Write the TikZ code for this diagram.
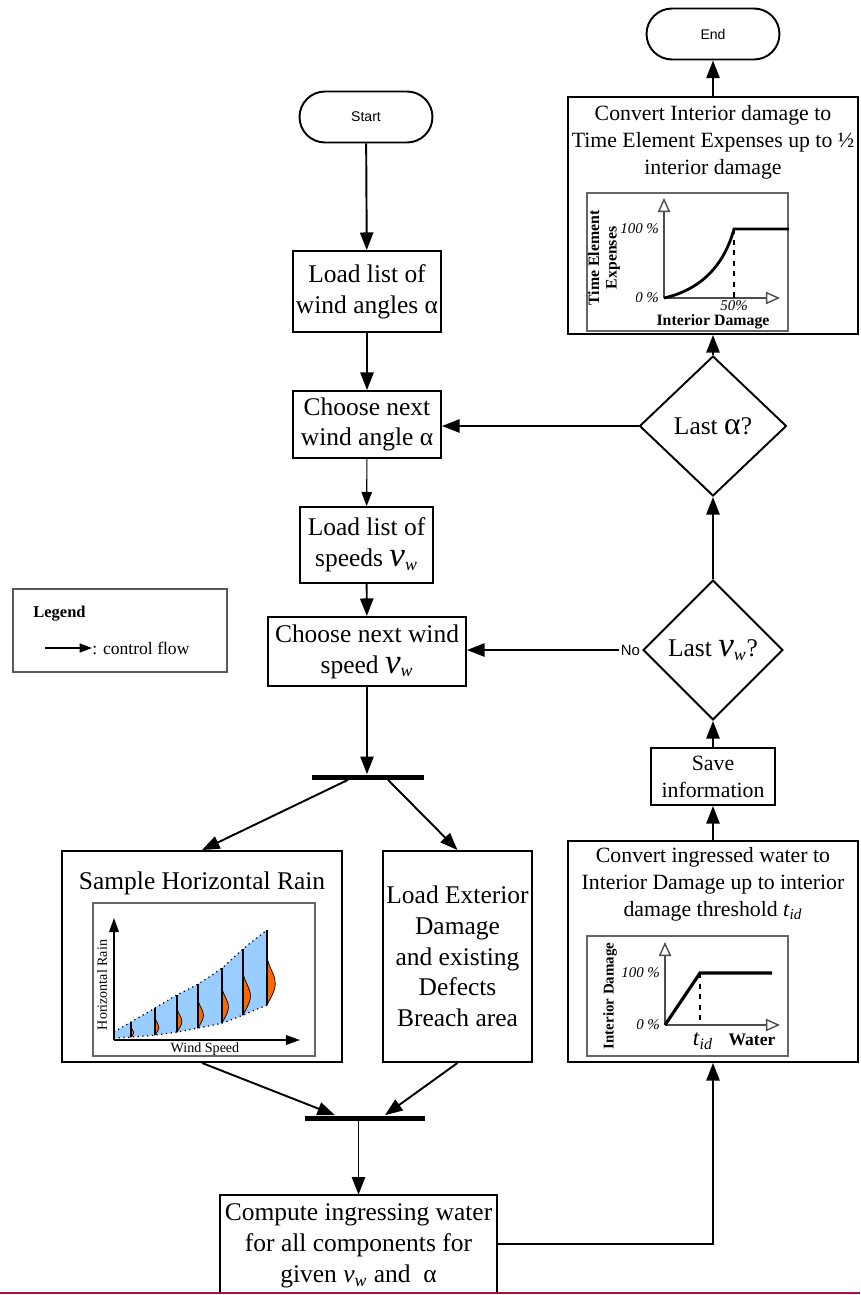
\documentclass[tikz,border=0pt]{standalone}
\usepackage{fontspec}
\setmainfont{Liberation Serif}
\setsansfont{Liberation Sans}
\usetikzlibrary{arrows.meta,shapes.geometric}
\definecolor{rainblue}{RGB}{153,204,255}
\definecolor{rainorange}{RGB}{255,102,0}
\definecolor{rulered}{RGB}{165,20,50}
\newcommand{\vw}[1][14.5]{{\fontsize{#1}{#1}\selectfont\itshape v}\textsubscript{\itshape w}}
\newcommand{\tid}{\textit{t}\textsubscript{\textit{id}}}
\begin{document}
\begin{tikzpicture}[x=0.02cm,y=-0.02cm,
  procbox/.style={draw,line width=1.1pt,align=center,inner sep=1pt},
  lbox/.style={procbox,font=\fontsize{14.5}{17.5}\selectfont},
  rbox/.style={procbox,font=\fontsize{12.4}{15.3}\selectfont},
  term/.style={draw,line width=1.1pt,rounded corners=0.51cm,minimum width=2.66cm,minimum height=1.02cm,font=\sffamily\fontsize{8}{10}\selectfont},
  decision/.style={draw,diamond,aspect=1.1,line width=1.1pt,inner sep=0pt,font=\fontsize{14.5}{17}\selectfont},
  flow/.style={line width=1.1pt,-{Triangle[length=10pt,width=7.5pt]}},
  thinflow/.style={line width=0.6pt,-{Triangle[length=8pt,width=6pt]}},
  legflow/.style={line width=1.1pt,-{Triangle[length=7pt,width=5pt]}},
  forkbar/.style={fill,inner sep=0pt,minimum height=0.1cm},
  chartframe/.style={draw=gray!80!black,line width=0.6pt},
  openaxis/.style={draw=gray!60!black,line width=0.8pt,-{Triangle[open,fill=white,length=8pt,width=7pt]}},
  rainaxis/.style={line width=0.8pt,-{Triangle[length=8pt,width=5.5pt]}},
  pct/.style={font=\itshape\fontsize{8.5}{9}\selectfont,inner sep=1pt},
]
\useasboundingbox (0,0) rectangle (860,1295);

% left column
\node[term] (start) at (366,117) {Start};
\node[lbox,minimum width=2.96cm,minimum height=1.62cm] (loadang) at (367,291.5) {Load list of\\wind angles α};
\node[lbox,minimum width=2.96cm,minimum height=1.34cm] (chooseang) at (367,424.5) {Choose next\\wind angle α};
\node[lbox,minimum width=2.66cm,minimum height=1.52cm] (loadspd) at (366.5,545) {Load list of\\speeds \vw[20]};
\node[lbox,minimum width=3.96cm,minimum height=1.38cm] (choosespd) at (367,651.5) {Choose next wind\\speed \vw[20]};
\node[forkbar,minimum width=2.26cm] (fork) at (368,777) {};
\node[procbox,minimum width=5.6cm,minimum height=4.22cm] (sample) at (202,956.5) {};
\node[anchor=north,inner sep=1pt,font=\fontsize{14.5}{17.5}\selectfont] (sampletxt) at (202,870) {Sample Horizontal Rain};
\node[lbox,minimum width=2.98cm,minimum height=4.22cm] (exterior) at (457.5,956.5) {Load Exterior\\Damage\\and existing\\Defects\\Breach area};
\node[forkbar,minimum width=2.4cm] (join) at (365,1118) {};
\node[minimum width=5.54cm,minimum height=1.96cm,inner sep=0pt] (compute) at (358.5,1244) {};
\node[align=center,inner sep=1pt,font=\fontsize{14.5}{17.5}\selectfont] (computetxt) at (358.5,1246) {Compute ingressing water\\for all components for\\given \vw\ and~ α};
\draw[line width=1.1pt] (compute.south west) -- (compute.north west) -- (compute.north east) -- (compute.south east);
\draw[line width=1.1pt,rulered] (0,1293) -- (860,1293);

% legend
\node[draw=gray!70!black,line width=0.6pt,minimum width=4.28cm,minimum height=1.66cm] (legend) at (120,630.5) {};
\node[anchor=west,inner sep=0pt,font=\bfseries\fontsize{9.4}{10}\selectfont] (legtitle) at (33,614) {Legend};
\coordinate (legarrow) at (45,648);
\node[anchor=west,inner sep=0pt,font=\fontsize{10}{11}\selectfont] (legtxt) at (92,648) {: control flow};
\draw[legflow] (legarrow) -- (legtxt.west);

% right column
\node[term] (end) at (713,34) {End};
\node[procbox,minimum width=5.8cm,minimum height=4.74cm] (convexp) at (713,215.5) {};
\node[rbox,draw=none,anchor=north] (convexptxt) at (713,103) {Convert Interior damage to\\Time Element Expenses up to ½\\interior damage};
\node[decision,minimum width=2.94cm,minimum height=2.8cm] (lastang) at (713,426) {Last {\fontsize{18}{18}\selectfont α}?};
\node[decision,minimum width=2.8cm,minimum height=2.8cm] (lastvw) at (713,650) {Last \vw[20]?};
\node[anchor=east,inner sep=1pt,font=\sffamily\fontsize{8.5}{10}\selectfont] (no) at (lastvw.west) {No};
\node[rbox,minimum width=2.48cm,minimum height=1.14cm] (save) at (713,776.5) {Save\\information};
\node[procbox,minimum width=5.8cm,minimum height=4.42cm] (convwater) at (713,951.5) {};
\node[rbox,draw=none,anchor=north] (convwatertxt) at (713,845) {Convert ingressed water to\\Interior Damage up to interior\\damage threshold \tid};

% chart: time element expenses
\draw[chartframe] (587,193) rectangle (788,331);
\draw[openaxis] (664,298) -- (664,198);
\draw[openaxis] (664,298) -- (780,298);
\draw[dashed,line width=0.7pt] (734,229) -- (734,298);
\draw[line width=1.6pt] (664,298) .. controls (700,290) and (724,266) .. (734,229) -- (789,229);
\node[pct,anchor=east] at (661,229) {100 \%};
\node[pct,anchor=east] at (661,298) {0 \%};
\node[pct,anchor=north,inner sep=0.5pt] at (734,299) {50\%};
\node[inner sep=0pt,font=\bfseries\fontsize{9}{10}\selectfont] at (713,322) {Interior Damage};
\node[rotate=90,align=center,inner sep=0pt,font=\bfseries\fontsize{9}{10}\selectfont] at (604,258) {Time Element\\Expenses};

% chart: interior damage
\draw[chartframe] (587,936) rectangle (788,1056);
\draw[openaxis] (665,1025) -- (665,942);
\draw[openaxis] (665,1025) -- (780,1025);
\draw[dashed,line width=0.7pt] (700,973) -- (700,1025);
\draw[line width=1.8pt] (665,1025) -- (700,973) -- (772,973);
\node[pct,anchor=east] at (662,973) {100 \%};
\node[pct,anchor=east] at (662,1025) {0 \%};
\node[inner sep=0pt,font=\fontsize{13}{14}\selectfont] at (703,1041) {\tid};
\node[inner sep=0pt,font=\bfseries\fontsize{10}{11}\selectfont] at (752,1040) {Water};
\node[rotate=90,inner sep=0pt,font=\bfseries\fontsize{8.5}{9.5}\selectfont] at (610,996) {Interior Damage};

% chart: horizontal rain
\draw[chartframe] (93,903) rectangle (315,1056);
\fill[rainblue] plot[smooth] coordinates {(114,1032) (131,1022) (155,1008) (177,995) (198,984) (222,968) (243,949) (267,930)}
  -- plot[smooth] coordinates {(267,1005) (243,1015) (222,1023) (198,1028) (177,1032) (155,1035) (131,1037) (114,1038)} -- cycle;
\draw[dotted,line width=0.7pt] plot[smooth] coordinates {(114,1032) (131,1022) (155,1008) (177,995) (198,984) (222,968) (243,949) (267,930)};
\draw[dotted,line width=0.7pt] plot[smooth] coordinates {(267,1005) (243,1015) (222,1023) (198,1028) (177,1032) (155,1035) (131,1037) (114,1038)};
\foreach \x/\u/\l in {131/1022/1037,155/1008/1035,177/995/1032,198/984/1028,222/968/1023,243/949/1015,267/930/1005} {
  \pgfmathsetmacro{\h}{\l-\u}
  \pgfmathsetmacro{\t}{\u+0.35*\h}
  \pgfmathsetmacro{\p}{\u+0.72*\h}
  \pgfmathsetmacro{\w}{0.09*\h+1.5}
  \filldraw[fill=rainorange,draw=black,line width=0.4pt] (\x,\t) .. controls (\x+0.2*\w,\p-0.2*\h) and (\x+\w,\p-0.15*\h) .. (\x+\w,\p) .. controls (\x+\w,\p+0.1*\h) and (\x+0.2*\w,\l-0.05*\h) .. (\x,\l) -- cycle;
  \draw[line width=0.9pt] (\x,\l) -- (\x,\u);
}
\draw[rainaxis] (114,1040) -- (114,918);
\draw[rainaxis] (114,1040) -- (300,1040);
\node[rotate=90,inner sep=0pt,font=\fontsize{8}{9}\selectfont] at (102,985) {Horizontal Rain};
\node[inner sep=0pt,font=\fontsize{8}{9}\selectfont] at (205,1049) {Wind Speed};

% control flow
\draw[flow] (start) -- (loadang);
\draw[flow] (loadang) -- (chooseang);
\draw[thinflow] (chooseang) -- (loadspd);
\draw[flow] (loadspd) -- (choosespd);
\draw[flow] (choosespd.south) -- (choosespd.south |- fork.north);
\draw[flow] ([xshift=-0.4cm]fork.south) -- (sample.north);
\draw[flow] ([xshift=0.4cm]fork.south) -- (exterior.north);
\draw[flow] (sample.south) -- ([xshift=-0.6cm]join.north);
\draw[flow] (exterior.south) -- ([xshift=0.4cm]join.north);
\draw[flow] (join.south -| compute.north) -- (compute.north);
\draw[flow] (compute.east) -| (convwater.south);
\draw[flow] (convwater) -- (save);
\draw[flow] (save) -- (lastvw);
\draw[flow] (lastvw) -- (lastang);
\draw[flow] (no.west) -- (no.west -| choosespd.east);
\draw[flow] (lastang.west) -- (lastang.west -| chooseang.east);
\draw[flow] (lastang) -- (convexp);
\draw[flow] (convexp) -- (end);
\end{tikzpicture}
\end{document}
